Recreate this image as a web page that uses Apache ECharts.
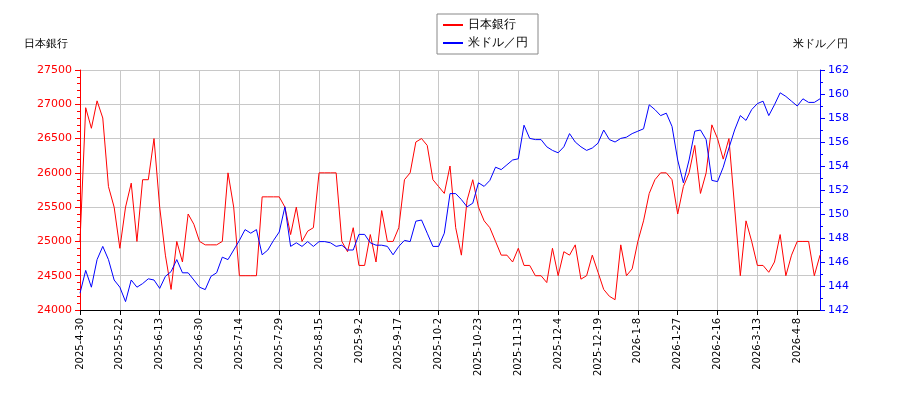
<!DOCTYPE html>
<html><head><meta charset="utf-8">
<script src="https://cdn.jsdelivr.net/npm/echarts@6/dist/echarts.min.js"></script>
<style>body{margin:0;background:#fff}#chart{width:900px;height:400px}</style>
</head><body><div id="chart"></div>
<script>
// tick labels, one every 14 trading days
const tickLabels = ['2025-4-30','2025-5-22','2025-6-13','2025-6-30','2025-7-14','2025-7-29','2025-8-15','2025-9-2','2025-9-17','2025-10-2','2025-10-23','2025-11-13','2025-12-4','2025-12-19','2026-1-8','2026-1-27','2026-2-16','2026-3-13','2026-4-8'];
// sampled every 2 trading days
const boj = [25000,26950,26650,27050,26800,25800,25500,24900,25500,25850,25000,25900,25900,26500,25500,24800,24300,25000,24700,25400,25250,25000,24950,24950,24950,25000,26000,25500,24500,24500,24500,24500,25650,25650,25650,25650,25500,25100,25500,25000,25150,25200,26000,26000,
26000,26000,25000,24850,25200,24650,24650,25100,24700,25450,25000,25000,25200,25900,26000,26450,26500,26400,25900,25800,25700,26100,25200,24800,25600,25900,25500,25300,25200,25000,24800,24800,24700,24900,24650,24650,24500,24500,24400,24900,24500,24850,24800,
24950,24450,24500,24800,24550,24300,24200,24150,24950,24500,24600,25000,25300,25700,25900,26000,26000,25900,25400,25800,26000,26400,25700,26000,26700,26500,26200,26500,25500,24500,25300,25000,24650,24650,24550,24700,25100,24500,24800,25000,25000,25000,24500,24800];
const usdjpy = [143.4,145.3,143.9,146.2,147.3,146.2,144.5,143.9,142.7,144.5,143.9,144.2,144.6,144.5,143.8,144.8,145.2,146.2,145.1,145.1,144.5,143.9,143.7,144.8,145.1,146.4,146.2,147.0,147.8,148.7,148.4,148.7,146.6,147.0,147.8,148.5,150.6,147.3,147.6,147.3,147.7,147.3,147.7,147.7,
147.6,147.3,147.4,147.0,147.0,148.3,148.3,147.6,147.4,147.4,147.3,146.6,147.3,147.8,147.7,149.4,149.5,148.4,147.3,147.3,148.4,151.7,151.7,151.2,150.6,150.9,152.6,152.3,152.8,153.9,153.7,154.1,154.5,154.6,157.4,156.3,156.2,156.2,155.6,155.3,155.1,155.6,156.7,
156.0,155.6,155.3,155.5,155.9,157.0,156.2,156.0,156.3,156.4,156.7,156.9,157.1,159.1,158.7,158.2,158.4,157.3,154.5,152.6,154.5,156.9,157.0,156.2,152.8,152.7,153.9,155.5,157.0,158.2,157.8,158.7,159.2,159.4,158.2,159.1,160.1,159.8,159.4,159.0,159.6,159.3,159.3,159.6];

const font = 'DejaVu Sans';
const grid = {lineStyle: {color: '#c8c8c8'}};
echarts.init(document.getElementById('chart')).setOption({
    animation: false,
    textStyle: {fontFamily: font},
    legend: {
        top: 14, left: 437, orient: 'vertical',
        borderColor: '#888', borderWidth: 1, padding: [5, 10, 5, 6], itemGap: 6,
        itemWidth: 20, itemHeight: 2,
        textStyle: {fontSize: 12, color: '#000'},
        data: [{name: '日本銀行', icon: 'rect'}, {name: '米ドル／円', icon: 'rect'}]
    },
    grid: {left: 80, right: 80, top: 70, bottom: 90},
    xAxis: {
        type: 'value', min: 0, max: 260, interval: 14,
        axisLine: {lineStyle: {color: '#000'}}, axisTick: {lineStyle: {color: '#000'}},
        axisLabel: {rotate: 90, fontSize: 10, color: '#000', showMaxLabel: false,
            formatter: v => tickLabels[v / 14] || ''},
        splitLine: Object.assign({show: true}, grid)
    },
    yAxis: [{
        type: 'value', min: 24000, max: 27500, interval: 500,
        name: '日本銀行', nameGap: 20, nameTextStyle: {color: '#000', fontSize: 11, align: 'right', padding: [0, 12, 0, 0]},
        axisLine: {show: true, lineStyle: {color: '#f00'}}, axisTick: {show: true, lineStyle: {color: '#f00'}},
        minorTick: {show: true, splitNumber: 5, lineStyle: {color: '#f00'}},
        axisLabel: {color: '#f00', fontSize: 11, formatter: v => String(v)},
        splitLine: grid
    }, {
        type: 'value', min: 142, max: 162, interval: 2,
        name: '米ドル／円', nameGap: 20, nameTextStyle: {color: '#000', fontSize: 11, align: 'center'},
        axisLine: {show: true, lineStyle: {color: '#00f'}}, axisTick: {show: true, lineStyle: {color: '#00f'}},
        minorTick: {show: true, splitNumber: 2, lineStyle: {color: '#00f'}},
        axisLabel: {color: '#00f', fontSize: 11},
        splitLine: {show: false}
    }],
    series: [{
        name: '日本銀行', type: 'line', yAxisIndex: 0, symbol: 'none',
        lineStyle: {color: '#f00', width: 1}, itemStyle: {color: '#f00'},
        data: boj.map((v, i) => [i * 2, v])
    }, {
        name: '米ドル／円', type: 'line', yAxisIndex: 1, symbol: 'none',
        lineStyle: {color: '#00f', width: 1}, itemStyle: {color: '#00f'},
        data: usdjpy.map((v, i) => [i * 2, v])
    }]
});
</script></body></html>
